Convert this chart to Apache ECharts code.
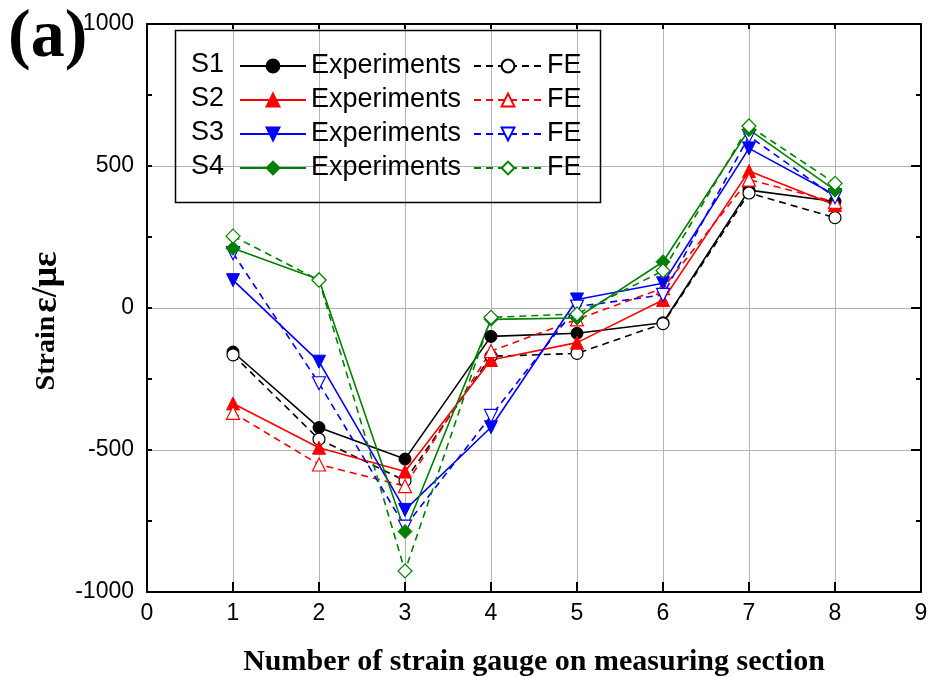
<!DOCTYPE html>
<html>
<head>
<meta charset="utf-8">
<script src="https://cdn.jsdelivr.net/npm/echarts@6/dist/echarts.min.js"></script>
<style>
  html, body { margin: 0; padding: 0; background: #fff; }
  #chart { width: 930px; height: 677px; }
</style>
</head>
<body>
<div id="chart"></div>
<script>
// Strain gauge readings along the measuring section (με)
const gauges = [1, 2, 3, 4, 5, 6, 7, 8];

const s1Exp = [-155, -421, -532, -100, -89, -52, 415, 375];
const s1FE  = [-165, -462, -608, -170, -160, -55, 405, 318];
const s2Exp = [-336, -492, -576, -183, -122, 28, 482, 363];
const s2FE  = [-369, -551, -627, -152, -40, 70, 452, 374];
const s3Exp = [98, -189, -711, -420, 30, 87, 562, 398];
const s3FE  = [193, -265, -770, -380, 5, 46, 605, 390];
const s4Exp = [210, 100, -787, -40, -35, 163, 628, 415];
const s4FE  = [253, 98, -926, -33, -21, 131, 641, 439];

const specimens = ['S1', 'S2', 'S3', 'S4'];
const colors = ['#000000', '#ff0000', '#0000ff', '#008000'];
const symbols = ['circle', 'triangle', 'triangle', 'diamond'];
const rotations = [0, 0, 180, 0];
const sizes = [12, 13, 13, 14];
const expSets = [s1Exp, s2Exp, s3Exp, s4Exp];
const feSets = [s1FE, s2FE, s3FE, s4FE];

const toPoints = arr => gauges.map((g, i) => [g, arr[i]]);

const series = [];
specimens.forEach((s, k) => {
  series.push({
    name: s + ' Experiments',
    type: 'line',
    data: toPoints(expSets[k]),
    symbol: symbols[k],
    symbolRotate: rotations[k],
    symbolSize: sizes[k],
    lineStyle: { color: colors[k], width: 1.6, type: 'solid' },
    itemStyle: { color: colors[k], borderColor: colors[k], borderWidth: 1 },
    emphasis: { disabled: true },
    animation: false
  });
  series.push({
    name: s + ' FE',
    type: 'line',
    data: toPoints(feSets[k]),
    symbol: symbols[k],
    symbolRotate: rotations[k],
    symbolSize: sizes[k],
    lineStyle: { color: colors[k], width: 1.6, type: [7, 5] },
    itemStyle: { color: '#ffffff', borderColor: colors[k], borderWidth: 1.2 },
    emphasis: { disabled: true },
    animation: false
  });
});

const sansFont = 'Liberation Sans, Arial, sans-serif';
const serifFont = 'Liberation Serif, Times New Roman, serif';
const legendText = { color: '#000', fontSize: 27, fontFamily: sansFont, lineHeight: 28 };
const legendTop = 47;
const rowGap = 6;
const axisLineStyle = { color: '#000', width: 2 };
const tickStyle = { color: '#000', width: 2 };
const gridStyle = { color: '#b4b4b4', width: 1 };

const chart = echarts.init(document.getElementById('chart'), null, { renderer: 'canvas' });
chart.setOption({
  backgroundColor: '#ffffff',
  animation: false,
  grid: { left: 147, right: 9, top: 24, bottom: 85, containLabel: false, outerBoundsMode: 'none' },
  legend: [
    {
      data: specimens.map(s => s + ' Experiments'),
      orient: 'vertical',
      left: 234, top: legendTop,
      itemWidth: 66, itemHeight: 16, itemGap: rowGap,
      formatter: () => 'Experiments',
      textStyle: legendText,
      selectedMode: false
    },
    {
      data: specimens.map(s => s + ' FE'),
      orient: 'vertical',
      left: 468, top: legendTop,
      itemWidth: 68, itemHeight: 16, itemGap: rowGap,
      formatter: () => 'FE',
      textStyle: legendText,
      selectedMode: false
    }
  ],
  graphic: [
    { type: 'rect', left: 173, top: 28, shape: { width: 425, height: 172 },
      style: { fill: 'none', stroke: '#000', lineWidth: 1.5 }, z: 10 },
    ...specimens.map((s, k) => ({
      type: 'text', left: 191, top: 51 + k * 34,
      style: { text: s, fill: '#000', fontSize: 27, fontFamily: sansFont }, z: 11
    })),
    { type: 'text', left: 8, top: 4,
      style: { text: '(a)', fill: '#000', fontSize: 68, fontWeight: 'bold', fontFamily: serifFont } }
  ],
  xAxis: [
    {
      type: 'value', min: 0, max: 9, interval: 1, position: 'bottom',
      name: 'Number of strain gauge on measuring section',
      nameLocation: 'middle', nameGap: 55,
      nameTextStyle: { fontSize: 30, fontWeight: 'bold', color: '#000', fontFamily: serifFont },
      axisLine: { show: true, onZero: false, lineStyle: axisLineStyle },
      axisTick: { show: true, inside: true, length: 10, lineStyle: tickStyle },
      axisLabel: { color: '#000', fontSize: 23, margin: 10, fontFamily: sansFont, formatter: v => String(v) },
      splitLine: { show: true, lineStyle: gridStyle }
    },
    {
      type: 'value', min: 0, max: 9, interval: 1, position: 'top',
      axisLine: { show: true, onZero: false, lineStyle: axisLineStyle },
      axisTick: { show: true, inside: true, length: 5, lineStyle: tickStyle },
      axisLabel: { show: false },
      splitLine: { show: false }
    }
  ],
  yAxis: [
    {
      // left axis: ticks every 250, labels every 500
      type: 'value', min: -1000, max: 1000, interval: 250, position: 'left',
      name: '{a|Strain} {b|ε/με}',
      nameLocation: 'middle', nameGap: 81, nameRotate: 90,
      nameTextStyle: {
        color: '#000', fontFamily: serifFont, fontWeight: 'bold',
        padding: [0, 26, 0, 0],
        rich: {
          a: { fontSize: 28, fontWeight: 'bold', fontFamily: serifFont, color: '#000' },
          b: { fontSize: 36, fontWeight: 'bold', fontFamily: serifFont, color: '#000' }
        }
      },
      axisLine: { show: true, onZero: false, lineStyle: axisLineStyle },
      axisTick: { show: true, inside: true, length: 5, lineStyle: tickStyle },
      axisLabel: { color: '#000', fontSize: 23, margin: 13, fontFamily: sansFont,
        formatter: v => (v % 500 === 0 ? String(v) : '') },
      splitLine: { show: false }
    },
    {
      // horizontal grid lines every 500
      type: 'value', min: -1000, max: 1000, interval: 500, position: 'left',
      axisLine: { show: false, onZero: false },
      axisTick: { show: false },
      axisLabel: { show: false },
      splitLine: { show: true, lineStyle: gridStyle }
    },
    {
      type: 'value', min: -1000, max: 1000, interval: 500, position: 'right',
      axisLine: { show: true, onZero: false, lineStyle: axisLineStyle },
      axisTick: { show: true, inside: true, length: 10, lineStyle: tickStyle },
      axisLabel: { show: false },
      splitLine: { show: false }
    },
    {
      type: 'value', min: -1000, max: 1000, interval: 250, position: 'right',
      axisLine: { show: false, onZero: false },
      axisTick: { show: true, inside: true, length: 5, lineStyle: tickStyle },
      axisLabel: { show: false },
      splitLine: { show: false }
    }
  ],
  series: series
});
</script>
</body>
</html>
